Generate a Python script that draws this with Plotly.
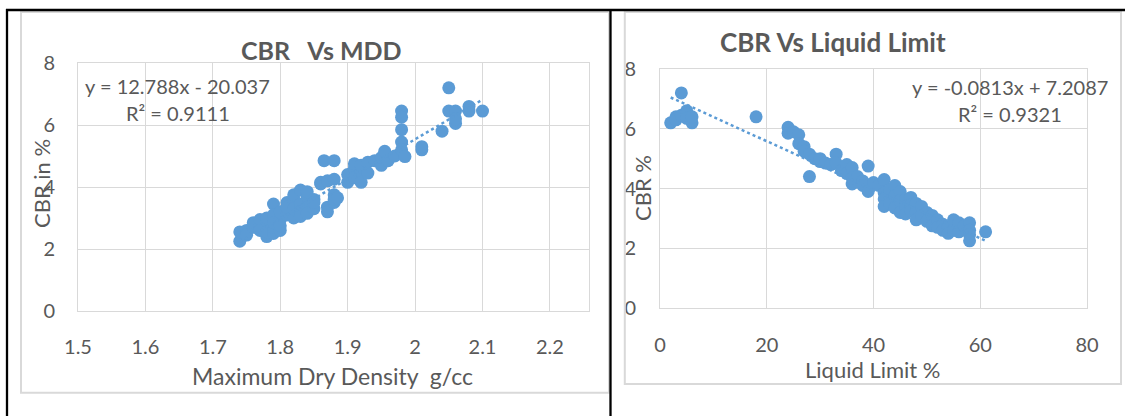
import plotly.graph_objects as go

# ---------------- data ----------------
mdd = [1.74, 1.74, 1.75, 1.75, 1.76, 1.76, 1.77, 1.77, 1.77, 1.78, 1.78, 1.78, 1.78,
       1.79, 1.79, 1.79, 1.79, 1.79, 1.80, 1.80, 1.80, 1.80,
       1.81, 1.81, 1.81, 1.82, 1.82, 1.82, 1.82, 1.83, 1.83, 1.83, 1.83,
       1.84, 1.84, 1.84, 1.84, 1.85, 1.85, 1.85,
       1.86, 1.86, 1.865, 1.88, 1.87, 1.88, 1.87, 1.87, 1.88, 1.88, 1.88, 1.885,
       1.90, 1.90, 1.91, 1.91, 1.91, 1.92, 1.92, 1.92, 1.93, 1.93, 1.94, 1.95, 1.95,
       1.955, 1.96, 1.97,
       1.98, 1.98, 1.98, 1.98, 1.98, 1.985,
       2.01, 2.01, 2.04, 2.05, 2.05, 2.06, 2.06, 2.06, 2.08, 2.08, 2.10]
cbr_mdd = [2.25, 2.55, 2.6, 2.45, 2.7, 2.85, 2.75, 2.95, 2.6, 2.9, 2.4, 2.55, 3.0,
           3.45, 2.5, 2.7, 3.1, 2.85, 2.6, 2.95, 3.2, 2.75,
           3.5, 3.1, 3.35, 3.6, 3.0, 3.3, 3.75, 3.9, 3.45, 3.2, 3.05,
           3.7, 3.35, 3.85, 3.15, 3.6, 3.3, 3.5,
           4.1, 4.15, 4.85, 4.85, 4.2, 4.25, 3.35, 3.2, 3.5, 3.75, 3.6, 3.65,
           4.15, 4.4, 4.6, 4.75, 4.3, 4.5, 4.15, 4.7, 4.45, 4.8, 4.85, 4.7, 4.95,
           5.15, 4.85, 5.0,
           6.45, 6.25, 5.85, 5.45, 5.2, 4.98,
           5.2, 5.3, 5.8, 7.2, 6.45, 6.45, 6.05, 6.2, 6.6, 6.45, 6.45]

ll = [2, 3, 3, 4, 4, 5, 5, 5, 6, 6, 18, 24, 24, 25, 26, 26, 27, 27, 28, 28, 29, 30, 30,
      31, 32, 33, 33, 34, 35, 35, 36, 36, 36, 37, 38, 38, 39, 39, 40, 41,
      42, 42, 42, 42, 43, 43, 43, 44, 44, 44, 45, 45, 45, 46, 46, 46, 47, 47, 47,
      48, 48, 48, 49, 49, 50, 50, 51, 51, 52, 52, 53, 53, 54, 54, 55, 55, 56, 56,
      57, 58, 58, 58, 58, 61]
cbr_ll = [6.2, 6.4, 6.3, 7.2, 6.45, 6.6, 6.5, 6.35, 6.2, 6.4, 6.4, 6.05, 5.85, 5.9,
          5.8, 5.5, 5.4, 5.25, 5.15, 4.4, 5.0, 4.9, 5.0,
          4.85, 4.8, 5.15, 4.85, 4.6, 4.8, 4.5, 4.7, 4.15, 4.35, 4.4, 4.25, 4.1,
          4.75, 3.9, 4.2, 4.1,
          4.3, 3.85, 3.65, 3.4, 3.95, 3.6, 3.5, 4.1, 3.75, 3.35, 3.9, 3.6, 3.2,
          3.65, 3.4, 3.15, 3.7, 3.45, 3.25, 3.5, 3.2, 2.95, 3.4, 3.1, 3.2, 2.9,
          3.1, 2.75, 2.95, 2.7, 2.8, 2.6, 2.7, 2.5, 2.95, 2.6, 2.85, 2.55,
          2.75, 2.85, 2.6, 2.45, 2.25, 2.55]

# trendline coefficients as printed on the chart
mdd_slope, mdd_icpt, mdd_r2 = 12.788, -20.037, 0.9111
ll_slope, ll_icpt, ll_r2 = -0.0813, 7.2087, 0.9321

x_ticks_mdd = [1.5, 1.6, 1.7, 1.8, 1.9, 2.0, 2.1, 2.2]
x_ticklabels_mdd = ["1.5", "1.6", "1.7", "1.8", "1.9", "2", "2.1", "2.2"]
x_ticks_ll = [0, 20, 40, 60, 80]
y_ticks = [0, 2, 4, 6, 8]

# ---------------- styling ----------------
W, H = 1125, 416
BLUE = "#5B9BD5"
TXT = "#595959"
GRID = "#D9D9D9"
FONT = "Lato"


def px(x):
    return x / W


def py(y):
    return 1 - y / H


fig = go.Figure()

fig.add_trace(go.Scatter(x=mdd, y=cbr_mdd, mode="markers", xaxis="x", yaxis="y",
                         marker=dict(color=BLUE, size=13, line=dict(width=0)),
                         showlegend=False))
mx = [min(mdd), max(mdd)]
fig.add_trace(go.Scatter(x=mx, y=[mdd_slope * v + mdd_icpt for v in mx], mode="lines",
                         xaxis="x", yaxis="y",
                         line=dict(color=BLUE, width=2.5, dash="dot"), showlegend=False))

fig.add_trace(go.Scatter(x=ll, y=cbr_ll, mode="markers", xaxis="x2", yaxis="y2",
                         marker=dict(color=BLUE, size=13, line=dict(width=0)),
                         showlegend=False))
lx = [min(ll), max(ll)]
fig.add_trace(go.Scatter(x=lx, y=[ll_slope * v + ll_icpt for v in lx], mode="lines",
                         xaxis="x2", yaxis="y2",
                         line=dict(color=BLUE, width=2.5, dash="dot"), showlegend=False))

axis_common = dict(showgrid=True, gridcolor=GRID, gridwidth=1, zeroline=False,
                   showline=True, linecolor=GRID, linewidth=1, mirror=True,
                   ticks="outside", tickcolor="rgba(0,0,0,0)", automargin=False,
                   tickfont=dict(family=FONT, size=20, color=TXT))

fig.update_layout(
    width=W, height=H,
    margin=dict(l=0, r=0, t=0, b=0, pad=0, autoexpand=False),
    paper_bgcolor="white", plot_bgcolor="white", showlegend=False,
    xaxis=dict(domain=[px(78), px(589)], range=[1.5, 2.258], tickvals=x_ticks_mdd,
               ticktext=x_ticklabels_mdd, anchor="y", ticklen=18, **axis_common),
    yaxis=dict(domain=[py(311), py(63)], range=[0, 8], tickvals=y_ticks, anchor="x",
               ticklen=18, **axis_common),
    xaxis2=dict(domain=[px(660), px(1087)], range=[0, 80], tickvals=x_ticks_ll,
                anchor="y2", ticklen=19, **axis_common),
    yaxis2=dict(domain=[py(308), py(69)], range=[0, 8], tickvals=y_ticks, anchor="x2",
                ticklen=19, **axis_common),
)

ann = []


def add_text(text, x, y, size, bold=False, angle=0):
    ann.append(dict(text=("<b>%s</b>" % text) if bold else text,
                    x=px(x), y=py(y), xref="paper", yref="paper",
                    xanchor="center", yanchor="middle", showarrow=False,
                    textangle=angle,
                    font=dict(family=FONT, size=size, color=TXT)))


add_text("CBR\u00a0\u00a0\u00a0Vs MDD", 321, 50, 25, bold=True)
add_text("CBR Vs Liquid Limit", 833, 42, 26, bold=True)
add_text("y = %.3fx - %.3f" % (mdd_slope, -mdd_icpt), 178, 86, 20)
add_text("R² = %.4f" % mdd_r2, 178, 113, 20)
add_text("y = %.4fx + %.4f" % (ll_slope, ll_icpt), 1010, 87, 20)
add_text("R² = %.4f" % ll_r2, 1010, 114, 20)
add_text("Maximum Dry Density\u00a0\u00a0g/cc", 332, 376, 23)
add_text("Liquid Limit %", 873, 369, 22)
add_text("CBR in %", 41, 184, 22, angle=-90)
add_text("CBR %", 643, 188, 22, angle=-90)
fig.update_layout(annotations=ann)

shapes = []
# light gray chart-area borders
shapes.append(dict(type="rect", xref="paper", yref="paper", x0=px(21), x1=px(609),
                   y0=py(392.7), y1=py(12), line=dict(color=GRID, width=2)))
shapes.append(dict(type="rect", xref="paper", yref="paper", x0=px(624.8), x1=px(1121),
                   y0=py(384), y1=py(12), line=dict(color=GRID, width=2)))
# black table borders
shapes.append(dict(type="line", xref="paper", yref="paper", x0=px(6), x1=px(1125),
                   y0=py(10), y1=py(10), line=dict(color="black", width=2.3)))
shapes.append(dict(type="line", xref="paper", yref="paper", x0=px(7), x1=px(7),
                   y0=py(9), y1=py(416), line=dict(color="black", width=2.3)))
shapes.append(dict(type="line", xref="paper", yref="paper", x0=px(610.5), x1=px(610.5),
                   y0=py(9), y1=py(416), line=dict(color="black", width=2.3)))
fig.update_layout(shapes=shapes)

fig.write_html("out.html",
               config={"displayModeBar": False, "staticPlot": True},
               post_script="document.body.style.margin='0';"
                           "document.body.style.padding='0';"
                           "document.body.style.overflow='hidden';")
